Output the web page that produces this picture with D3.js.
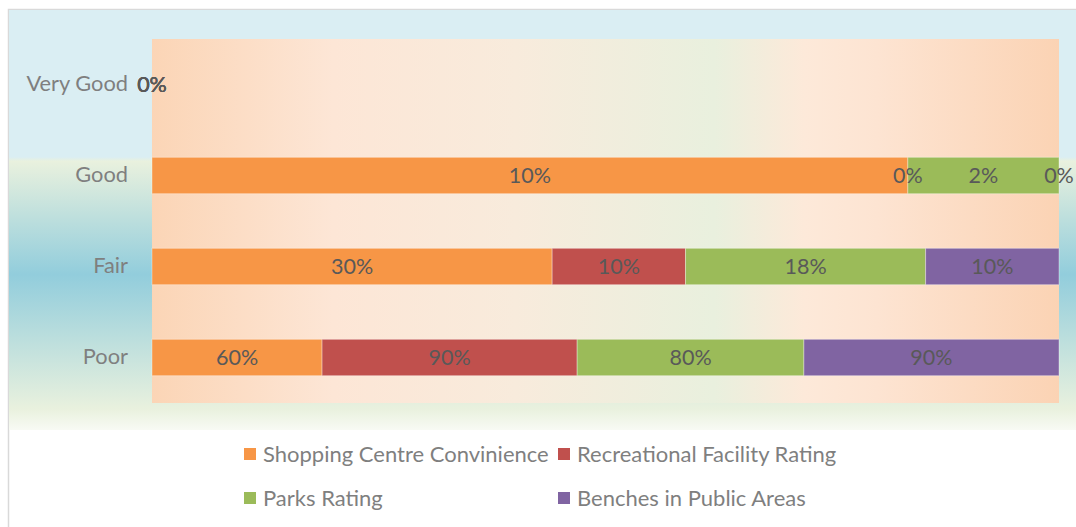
<!DOCTYPE html>
<html>
<head>
<meta charset="utf-8">
<script src="https://cdn.jsdelivr.net/npm/d3@7"></script>
<style>
  body { margin: 0; background: #fff; }
  svg { display: block; font-family: Lato, "Open Sans", sans-serif; }
</style>
</head>
<body>
<svg id="chart" width="1076" height="527"></svg>
<script>
var categories = ["Very Good", "Good", "Fair", "Poor"];
var seriesNames = ["Shopping Centre Convinience", "Recreational Facility Rating", "Parks Rating", "Benches in Public Areas"];
var shopping = [0, 10, 30, 60];
var recreational = [0, 0, 10, 90];
var parks = [0, 2, 18, 80];
var benches = [0, 0, 10, 90];
var colors = ["#f79646", "#c0504d", "#9bbb59", "#8064a2"];

var svg = d3.select("#chart");
var W = 1076, H = 527;
var plot = {left: 152, right: 1059, top: 39, bottom: 403};

var defs = svg.append("defs");

// outer area gradient (vertical)
var og = defs.append("linearGradient").attr("id", "outerGrad")
    .attr("x1", 0).attr("y1", 0).attr("x2", 0).attr("y2", 1);
[[0, "#daeef3"], [0.35, "#daeef3"], [0.36, "#e9f1de"], [0.63, "#92cddc"], [0.95, "#e9f1de"], [1, "#f8faf4"]]
  .forEach(function(s) { og.append("stop").attr("offset", s[0]).attr("stop-color", s[1]); });

// plot area gradient (horizontal)
var pg = defs.append("linearGradient").attr("id", "plotGrad")
    .attr("x1", 0).attr("y1", 0).attr("x2", 1).attr("y2", 0);
[[0, "#fbd5b6"], [0.2, "#fde6d6"], [0.4, "#f8ebdc"], [0.62, "#e9f0de"], [0.72, "#fde9d9"], [0.8, "#fde4d2"], [1, "#fbd3b4"]]
  .forEach(function(s) { pg.append("stop").attr("offset", s[0]).attr("stop-color", s[1]); });

svg.append("rect").attr("x", 0).attr("y", 0).attr("width", W).attr("height", H).attr("fill", "#fff");
svg.append("rect").attr("x", 8.5).attr("y", 9.5).attr("width", W).attr("height", H)
    .attr("fill", "#fff").attr("stroke", "#d9d9d9").attr("stroke-width", 1.5);
svg.append("rect").attr("x", 9).attr("y", 10).attr("width", W).attr("height", 420)
    .attr("fill", "url(#outerGrad)");

svg.append("rect").attr("x", plot.left).attr("y", plot.top)
    .attr("width", plot.right - plot.left).attr("height", plot.bottom - plot.top)
    .attr("fill", "url(#plotGrad)");

// build rows
var seriesVals = [shopping, recreational, parks, benches];
var rows = categories.map(function(c, i) {
  var r = {cat: c};
  seriesNames.forEach(function(s, j) { r[s] = seriesVals[j][i]; });
  return r;
});

// 100% stacked
var stacked = d3.stack().keys(seriesNames).offset(d3.stackOffsetExpand)(rows);

var x = d3.scaleLinear().domain([0, 1]).range([plot.left, plot.right]);
var y = d3.scaleBand().domain(categories).range([plot.top, plot.bottom]).paddingInner(0.6).paddingOuter(0.3);

var layers = svg.selectAll("g.layer").data(stacked).enter().append("g")
    .attr("class", "layer").attr("fill", function(d, i) { return colors[i]; });

layers.selectAll("rect").data(function(d) { return d; }).enter().append("rect")
    .attr("x", function(d) { return x(d[0]); })
    .attr("y", function(d) { return y(d.data.cat); })
    .attr("width", function(d) { return x(d[1]) - x(d[0]); })
    .attr("height", y.bandwidth())
    .attr("stroke", "rgba(255,255,255,0.35)").attr("stroke-width", 1);

// data labels
stacked.forEach(function(layer) {
  svg.append("g").selectAll("text").data(layer).enter().append("text")
    .attr("x", function(d) { return (x(d[0]) + x(d[1])) / 2; })
    .attr("y", function(d) { return y(d.data.cat) + y.bandwidth() / 2; })
    .attr("dy", "0.36em")
    .attr("text-anchor", "middle")
    .attr("font-size", 21.5)
    .attr("fill", "#595959")
    .text(function(d) { return d.data[layer.key] + "%"; });
});

// category axis
var yAxis = svg.append("g").attr("transform", "translate(" + plot.left + ",0)")
    .call(d3.axisLeft(y).tickSize(0).tickPadding(24));
yAxis.select(".domain").remove();
yAxis.selectAll("text").attr("font-size", 21.8).attr("fill", "#7f7f7f")
    .attr("font-family", "Lato, sans-serif");

// legend
var legendPos = [[244, 454], [558, 454], [244, 498], [558, 498]];
var lg = svg.append("g").selectAll("g").data(seriesNames).enter().append("g")
    .attr("transform", function(d, i) { return "translate(" + legendPos[i][0] + "," + legendPos[i][1] + ")"; });
lg.append("rect").attr("x", 0).attr("y", -6).attr("width", 12).attr("height", 12)
    .attr("fill", function(d, i) { return colors[i]; });
lg.append("text").attr("x", 19).attr("dy", "0.36em").attr("font-size", 22)
    .attr("fill", "#7f7f7f").text(function(d) { return d; });
</script>
</body>
</html>
